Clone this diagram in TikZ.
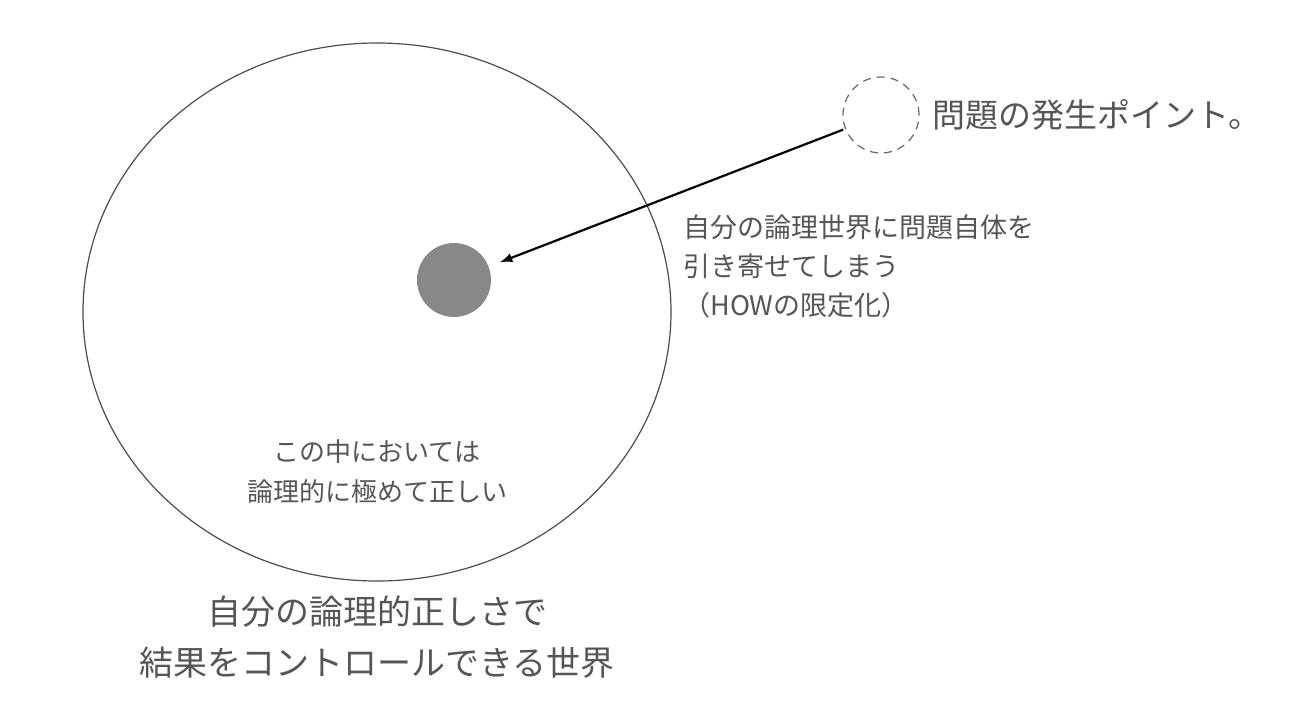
\documentclass[tikz,border=0pt]{standalone}
\usepackage{fontspec}
\setmainfont{Noto Sans CJK JP}
\usetikzlibrary{positioning,shapes.geometric}
\definecolor{txtgray}{HTML}{555555}
\definecolor{coregray}{HTML}{888888}
\begin{document}
\begin{tikzpicture}[x=0.5pt,y=-0.5pt,
  label/.style={text=txtgray,inner sep=0pt,align=center}]

\useasboundingbox (0,0) rectangle (1300,718);

\node[ellipse,draw=black!70,line width=0.6pt,minimum width=294pt,minimum height=269pt,inner sep=0pt] (world) at (377,312) {};
\node[circle,fill=coregray,minimum size=37pt,inner sep=0pt] (core) at (454,280) {};
\node[circle,draw=black!60,dash pattern=on 4pt off 3pt,line width=0.6pt,minimum size=38pt,inner sep=0pt] (point) at (881,115) {};

\node[label,right=6pt of point,font=\fontsize{16.5}{20}\selectfont] (pointlabel) {問題の発生ポイント。};

\draw[-latex,line width=1.1pt,shorten >=6pt,shorten <=1pt] (point) -- (core);
%
\node[label,align=left,anchor=west,font=\fontsize{13.5}{19.5}\selectfont] (pull) at (683,266) {自分の論理世界に問題自体を\\引き寄せてしまう\\（HOWの限定化）};

\node[label,font=\fontsize{13}{20}\selectfont] (inside) at (377,472) {この中においては\\論理的に極めて正しい};

\node[label,font=\fontsize{17}{25.5}\selectfont] (caption) at (377,637) {自分の論理的正しさで\\結果をコントロールできる世界};

\end{tikzpicture}
\end{document}
